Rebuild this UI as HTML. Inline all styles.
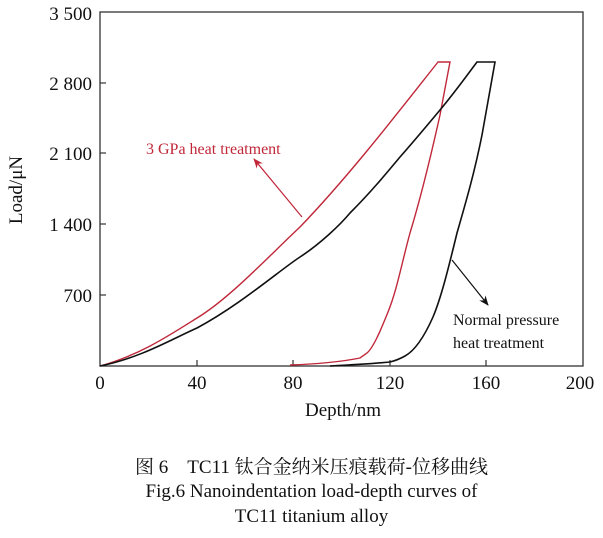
<!DOCTYPE html>
<html><head><meta charset="utf-8"><style>
body{margin:0;background:#fff;width:603px;height:538px;overflow:hidden;font-family:"Liberation Serif","Noto Serif CJK SC",serif}
svg{position:absolute;left:0;top:0}
.c{position:absolute;left:0;width:603px;text-align:center;font-size:19px;color:#111}
</style></head><body>
<svg width="603" height="538" font-family="Liberation Serif, serif">
<defs>
<marker id="ar" markerWidth="10" markerHeight="10" refX="9" refY="5" orient="auto" markerUnits="userSpaceOnUse"><path d="M0,1 L10,5 L0,9 L3,5z" fill="#c0283a"/></marker>
<marker id="ab" markerWidth="10" markerHeight="10" refX="9" refY="5" orient="auto" markerUnits="userSpaceOnUse"><path d="M0,1 L10,5 L0,9 L3,5z" fill="#111"/></marker>
</defs>
<rect x="100" y="12" width="483" height="354" fill="none" stroke="#333" stroke-width="1.3"/>
<g stroke="#333" stroke-width="1.2">
<line x1="100" y1="83" x2="106" y2="83"/><line x1="100" y1="153" x2="106" y2="153"/><line x1="100" y1="224" x2="106" y2="224"/><line x1="100" y1="295" x2="106" y2="295"/>
<line x1="197" y1="366" x2="197" y2="360"/><line x1="293" y1="366" x2="293" y2="360"/><line x1="390" y1="366" x2="390" y2="360"/><line x1="486" y1="366" x2="486" y2="360"/>
</g>
<g font-size="19" fill="#111" text-anchor="end">
<text x="92" y="20">3 500</text><text x="92" y="90">2 800</text><text x="92" y="160">2 100</text><text x="92" y="231">1 400</text><text x="92" y="302">700</text>
</g>
<g font-size="19" fill="#111" text-anchor="middle">
<text x="100" y="389">0</text><text x="197" y="389">40</text><text x="293" y="389">80</text><text x="390" y="389">120</text><text x="486" y="389">160</text><text x="580" y="389">200</text>
</g>
<text x="343" y="416" font-size="19" text-anchor="middle" fill="#111">Depth/nm</text>
<text transform="translate(22,190) rotate(-90)" font-size="19" text-anchor="middle" fill="#111">Load/μN</text>
<path d="M100,366 C140,355 170,335 197,318 C230,298 270,255 300,227 C350,175 400,110 438,62 L450,62 L440,115 C430,160 420,200 410,233 C402,262 397,290 388,312 C380,332 373,348 367,353 L360,358 C340,362 320,364 290,365" fill="none" stroke="#c0283a" stroke-width="1.4"/>
<path d="M100,366 C140,358 170,340 197,328 C240,305 280,270 300,257 C320,244 340,225 350,213 C370,193 385,175 400,157 C415,140 430,122 440,110 C455,92 465,78 477,62 L495,62 L482,135 C474,175 465,205 457,233 C448,270 441,298 433,317 C425,335 416,350 405,356 C398,360 394,361 390,362 C370,364 350,365 330,366" fill="none" stroke="#111" stroke-width="1.6"/>
<line x1="302" y1="217" x2="254" y2="159" stroke="#c0283a" stroke-width="1.2" marker-end="url(#ar)"/>
<line x1="452" y1="260" x2="488" y2="305" stroke="#111" stroke-width="1.2" marker-end="url(#ab)"/>
<text x="146" y="154" font-size="16" fill="#c0283a">3 GPa heat treatment</text>
<text x="453" y="325" font-size="16" fill="#111">Normal pressure</text>
<text x="453" y="348" font-size="16" fill="#111">heat treatment</text>
</svg>
<div class="c" style="top:452px;left:10px">图 6　TC11 钛合金纳米压痕载荷-位移曲线</div>
<div class="c" style="top:481px;left:10px">Fig.6 Nanoindentation load-depth curves of</div>
<div class="c" style="top:506px;left:10px">TC11 titanium alloy</div>
</body></html>
